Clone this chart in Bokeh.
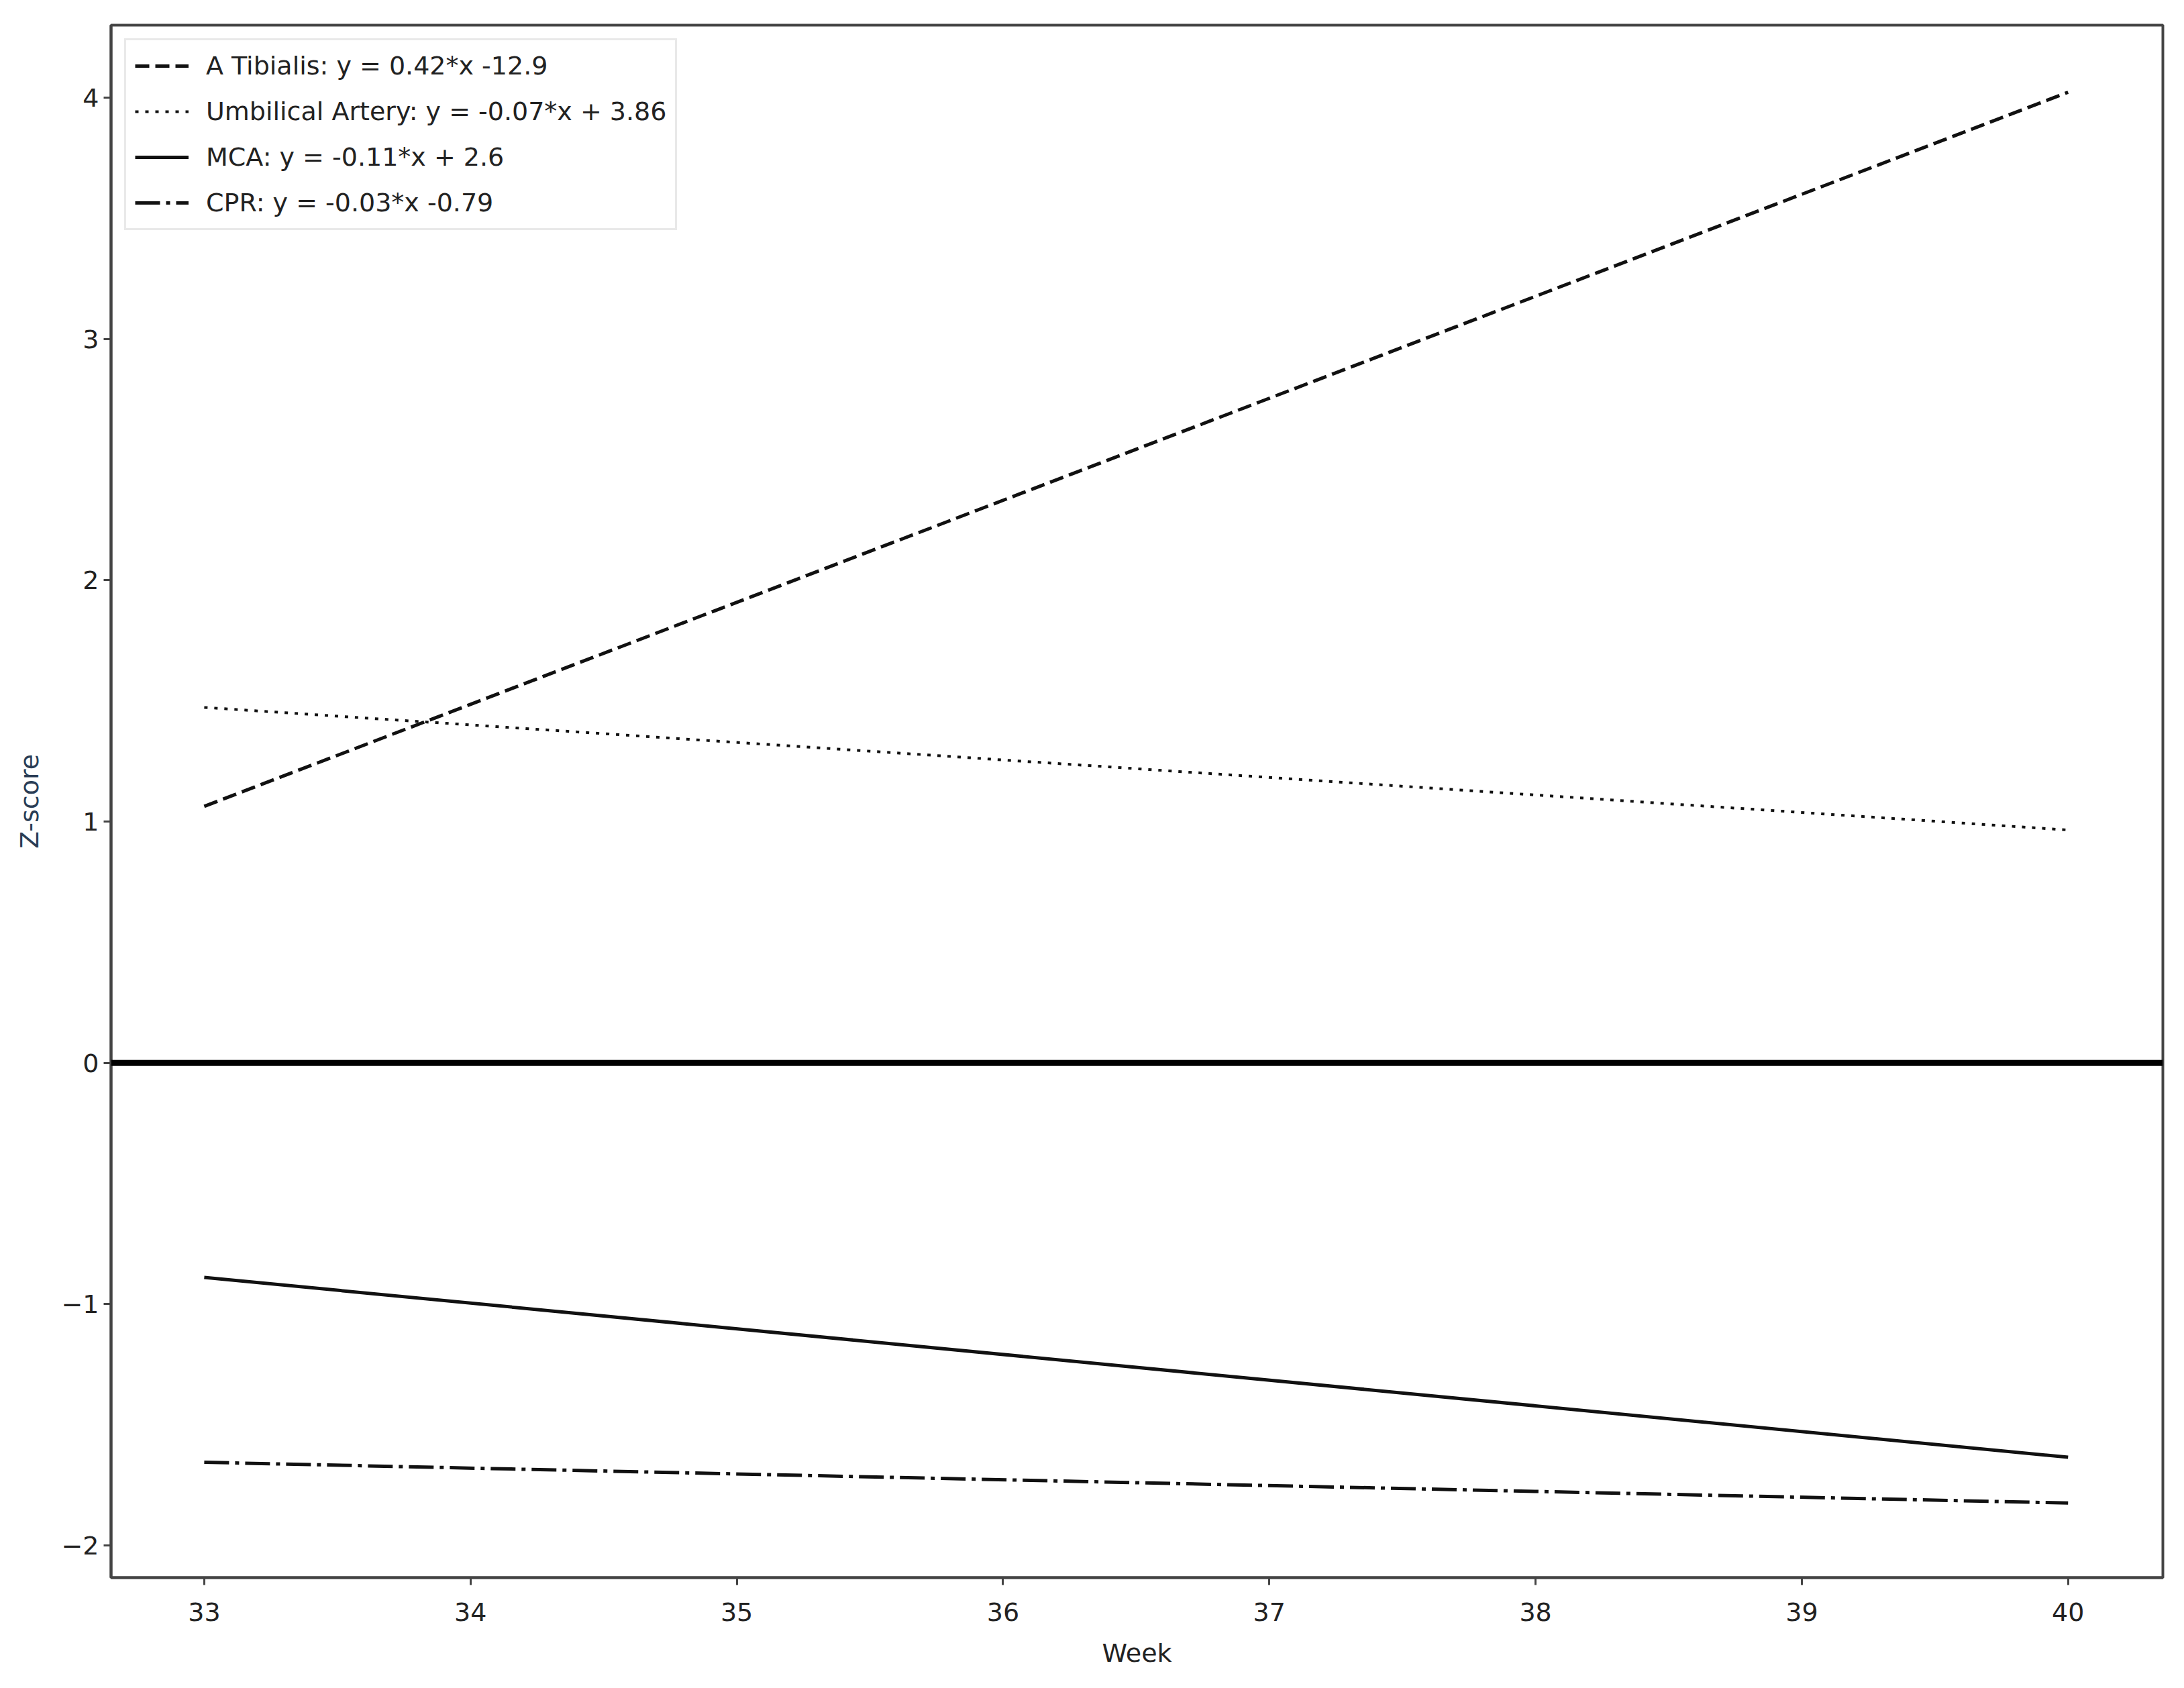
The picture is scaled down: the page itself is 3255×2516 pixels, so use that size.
from bokeh.plotting import figure
from bokeh.models import Span, Legend, LegendItem, FixedTicker, Range1d
from bokeh.embed import file_html
from bokeh.resources import INLINE

# ---- data ----
weeks = [33, 40]
tibialis = [1.063, 4.022]
umbilical = [1.473, 0.965]
mca = [-0.889, -1.634]
cpr = [-1.655, -1.824]

labels = [
    "A Tibialis: y = 0.42*x -12.9",
    "Umbilical Artery: y = -0.07*x + 3.86",
    "MCA: y = -0.11*x + 2.6",
    "CPR: y = -0.03*x -0.79",
]
x_ticks = [33, 34, 35, 36, 37, 38, 39, 40]
y_ticks = [-2, -1, 0, 1, 2, 3, 4]

FONT = "DejaVu Sans"
FS = "38px"

p = figure(
    width=3240, height=2500,
    x_range=Range1d(32.65, 40.356), y_range=Range1d(-2.133, 4.30),
    output_backend="svg", toolbar_location=None,
    min_border_left=165, min_border_right=17, min_border_top=37, min_border_bottom=149,
)
p.xgrid.visible = False
p.ygrid.visible = False
p.background_fill_color = "white"
p.border_fill_color = "white"
p.outline_line_color = "#444444"
p.outline_line_width = 4

for ax in (p.xaxis[0], p.yaxis[0]):
    ax.axis_line_color = "#444444"
    ax.axis_line_width = 4
    ax.major_tick_in = 0
    ax.major_tick_out = 11
    ax.major_tick_line_color = "#444444"
    ax.major_tick_line_width = 3
    ax.minor_tick_line_color = None
    ax.major_label_text_font = FONT
    ax.major_label_text_font_size = FS
    ax.major_label_text_color = "#222222"
    ax.axis_label_text_font = FONT
    ax.axis_label_text_font_size = FS
    ax.axis_label_text_font_style = "normal"

p.xaxis.ticker = FixedTicker(ticks=x_ticks)
p.yaxis.ticker = FixedTicker(ticks=y_ticks)
p.xaxis.axis_label = "Week"
p.yaxis.axis_label = "Z-score"
p.xaxis.major_label_standoff = 26
p.yaxis.major_label_standoff = 7
p.xaxis.axis_label_standoff = 23
p.yaxis.axis_label_standoff = 22
p.xaxis.axis_label_text_color = "#222222"
p.yaxis.axis_label_text_color = "#2a3d55"

zero = Span(location=0, dimension="width", line_color="black", line_width=9)
p.add_layout(zero)

LW = 5
r1 = p.line(weeks, tibialis, line_color="#111111", line_width=LW, line_dash="21 9")
r2 = p.line(weeks, umbilical, line_color="#111111", line_width=LW - 1, line_dash="5 10")
r3 = p.line(weeks, mca, line_color="#111111", line_width=LW)
r4 = p.line(weeks, cpr, line_color="#111111", line_width=LW, line_dash="37 9 6 9")

legend = Legend(
    items=[LegendItem(label=labels[0], renderers=[r1]),
           LegendItem(label=labels[1], renderers=[r2]),
           LegendItem(label=labels[2], renderers=[r3]),
           LegendItem(label=labels[3], renderers=[r4])],
    location="top_left",
    margin=20,
    padding=13,
    spacing=18,
    label_height=50,
    glyph_height=50,
    glyph_width=80,
    label_standoff=26,
    label_text_font=FONT,
    label_text_font_size=FS,
    label_text_color="#222222",
    border_line_color="#d4d4d4",
    border_line_width=3,
    background_fill_color="white",
    background_fill_alpha=0.85,
)
p.add_layout(legend)

open("out.html", "w").write(file_html(p, INLINE))
